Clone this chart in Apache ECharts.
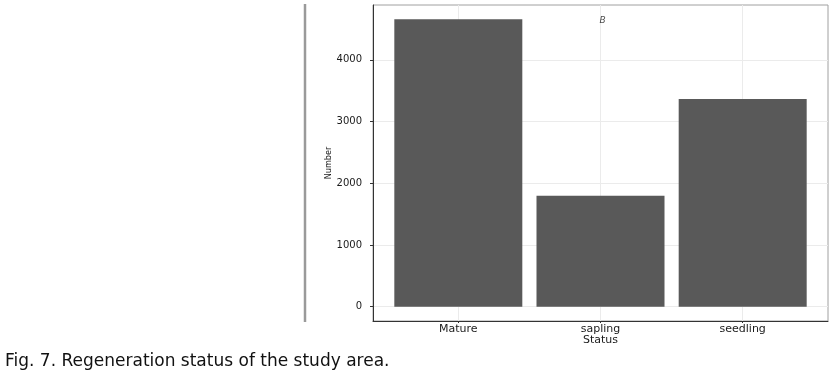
<!DOCTYPE html>
<html>
<head>
<meta charset="utf-8">
<script src="https://cdn.jsdelivr.net/npm/echarts@6/dist/echarts.min.js"></script>
<style>
  html, body { margin: 0; padding: 0; background: #fff; }
  #chart { width: 839px; height: 383px; }
</style>
</head>
<body>
<div id="chart"></div>
<script>
// regeneration counts
const categories = ['Mature', 'sapling', 'seedling'];
const counts = [4656, 1799, 3366];
const yTicks = [0, 1000, 2000, 3000, 4000];
const yGrid = [0, 500, 1000, 1500, 2000, 2500, 3000, 3500, 4000, 4500];
const annotation = { x: 2, y: 4656, text: 'B' };

// ggplot-like expansion: 0.6 on a discrete axis, 5% on a continuous one
const yMax = Math.max(...counts);
const yMin = -yMax * 0.05;
const yTop = yMax * 1.05;
const xPos = categories.map((c, i) => i + 1);

const chart = echarts.init(document.getElementById('chart'), null, { renderer: 'canvas' });

const tickFont = { fontFamily: 'DejaVu Sans, sans-serif', fontSize: 10, color: '#1a1a1a' };
const catFont = { fontFamily: 'DejaVu Sans, sans-serif', fontSize: 11, color: '#1a1a1a' };

chart.setOption({
    animation: false,
    backgroundColor: '#fff',
    grid: {
        left: 373, right: 11, top: 5, bottom: 62,
        show: true, borderColor: '#a0a0a0', borderWidth: 1
    },
    xAxis: {
        type: 'value',
        min: 0.4,
        max: categories.length + 0.6,
        name: 'Status',
        nameLocation: 'middle',
        nameGap: 14,
        nameMoveOverlap: false,
        nameTextStyle: catFont,
        axisLine: { show: true, onZero: false, lineStyle: { color: '#333', width: 1 } },
        axisTick: { show: true, length: 2, customValues: xPos, lineStyle: { color: '#333' } },
        axisLabel: Object.assign({
            customValues: xPos,
            margin: 3,
            formatter: (v) => categories[Math.round(v) - 1] || ''
        }, catFont),
        splitLine: { show: true, customValues: xPos, lineStyle: { color: '#ebebeb', width: 1 } }
    },
    yAxis: {
        type: 'value',
        min: yMin,
        max: yTop,
        name: 'Number',
        nameLocation: 'middle',
        nameGap: 40,
        nameMoveOverlap: false,
        nameTextStyle: {
            fontFamily: 'Liberation Sans Narrow, DejaVu Sans Condensed, sans-serif',
            fontSize: 9, color: '#1a1a1a'
        },
        axisLine: { show: true, lineStyle: { color: '#333', width: 1 } },
        axisTick: { show: true, length: 3, customValues: yTicks, lineStyle: { color: '#333' } },
        axisLabel: Object.assign({
            customValues: yTicks,
            margin: 11,
            formatter: (v) => String(v)
        }, tickFont),
        splitLine: { show: true, customValues: yGrid, lineStyle: { color: '#ebebeb', width: 1 } }
    },
    graphic: [
        {
            type: 'line',
            shape: { x1: 305, y1: 4, x2: 305, y2: 322 },
            style: { stroke: '#9a9a9a', lineWidth: 2.5 }
        },
        {
            type: 'text',
            left: 5,
            top: 353,
            style: {
                text: 'Fig. 7. Regeneration status of the study area.',
                font: '17px "DejaVu Sans", sans-serif',
                fill: '#111'
            }
        }
    ],
    series: [
        {
            type: 'bar',
            barWidth: 128,
            itemStyle: { color: '#595959' },
            data: xPos.map((x, i) => [x, counts[i]])
        },
        {
            type: 'scatter',
            symbolSize: 0,
            silent: true,
            label: {
                show: true,
                position: 'inside',
                offset: [2, 1],
                formatter: annotation.text,
                fontStyle: 'italic',
                fontFamily: 'DejaVu Sans, sans-serif',
                fontSize: 9,
                color: '#1a1a1a'
            },
            data: [[annotation.x, annotation.y]]
        }
    ]
});
</script>
</body>
</html>
